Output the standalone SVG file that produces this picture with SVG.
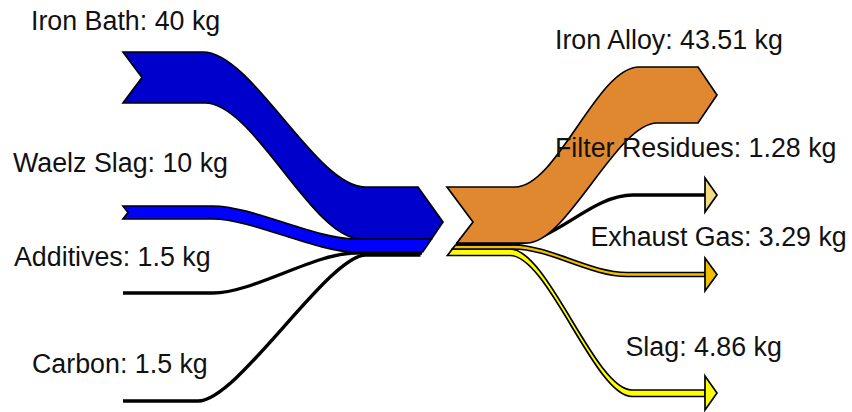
<svg xmlns="http://www.w3.org/2000/svg" width="852" height="412" viewBox="0 0 852 412">
  <style>
    .band { stroke: #000; stroke-width: 1.7; stroke-linejoin: miter; }
    .thin { fill: none; stroke: #000; stroke-width: 3.4; }
    .head { stroke: #000; stroke-width: 1.7; stroke-linejoin: miter; }
    .label { font-family: "Liberation Sans", Arial, sans-serif; font-size: 26.8px; fill: #111; }
  </style>
  <rect width="852" height="412" fill="#fff"/>

  <!-- flow bands (inputs on the left, outputs on the right) -->
  <g id="connectors">
    <!-- inputs -->
    <path class="thin" d="M123,401 H198 C238,401 328,255 366,255 H420.5"/>
    <path class="thin" d="M123,293 H213 C253,293 315,253 355,253 H422"/>
    <path class="band" fill="#0000ff" d="M123,206 H213 C252,206 316,239 355,239 H431.5 L422.7,252 H355 C316,252 252,219 213,219 H123 L128,212.5 Z"/>
    <path class="band" fill="#0000cc" d="M123,52 H203 C252,52 316,187 365,187 H418 L443,222 L431.5,239 H361 C312,239 254,103 205,103 H123 L142,77.5 Z"/>

    <!-- outputs -->
    <path class="band" fill="#ffff00" d="M452.3,249 H510 C548,249 595,390 632,390 H705 V396.5 H632 C595,396.5 548,255.5 510,255.5 H447.4 Z"/>
    <polygon class="head" fill="#ffff00" points="705,376 717,393 705,410"/>
    <path class="band" fill="#f0c000" d="M455.4,245 H513 C550,245 590,272.5 627,272.5 H705 V276.5 H627 C590,276.5 550,249 513,249 H452.3 Z"/>
    <polygon class="head" fill="#f0c000" points="705,258 717,274.5 705,291"/>
    <path class="thin" d="M456,244 H510 C555,244 590,195 633,195 H706"/>
    <polygon class="head" fill="#f0dc82" points="705,178 717,195 705,212"/>
    <path class="band" fill="#e0882f" d="M447,187 H515 C557,187 597,67 639,67 H698 L717,95 L698,123 H657 C617,123 567,243 527,243 H456.9 L473,222 Z"/>
  </g>

  <g id="node-iron-bath"><text class="label" x="31" y="29.5">Iron Bath: 40 kg</text></g>
  <g id="node-waelz-slag"><text class="label" x="13" y="171.5">Waelz Slag: 10 kg</text></g>
  <g id="node-additives"><text class="label" x="14" y="266">Additives: 1.5 kg</text></g>
  <g id="node-carbon"><text class="label" x="32" y="372.5">Carbon: 1.5 kg</text></g>
  <g id="node-iron-alloy"><text class="label" x="555" y="48.5">Iron Alloy: 43.51 kg</text></g>
  <g id="node-filter-residues"><text class="label" x="555" y="156.5">Filter Residues: 1.28 kg</text></g>
  <g id="node-exhaust-gas"><text class="label" x="590.5" y="246">Exhaust Gas: 3.29 kg</text></g>
  <g id="node-slag"><text class="label" x="625.5" y="356">Slag: 4.86 kg</text></g>
</svg>
